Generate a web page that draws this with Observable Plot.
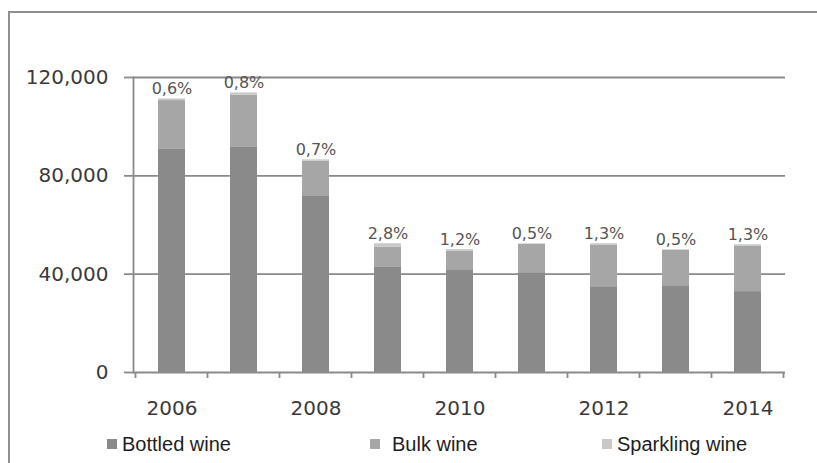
<!DOCTYPE html>
<html><head><meta charset="utf-8">
<script src="https://cdn.jsdelivr.net/npm/d3@7"></script>
<script src="https://cdn.jsdelivr.net/npm/@observablehq/plot@0.6"></script>
<style>
html,body{margin:0;padding:0;background:#fff;width:817px;height:463px;overflow:hidden;}
#frame{position:absolute;left:8px;top:11px;width:900px;height:600px;border-top:2px solid #8f8f8f;border-left:2px solid #8f8f8f;}
#chart{position:absolute;left:0;top:0;}
#legend{position:absolute;left:0;top:430px;width:817px;height:28px;font-family:"Liberation Sans",Arial,sans-serif;font-size:20px;color:#1e1e1e;}
.item{position:absolute;top:0;height:28px;display:flex;align-items:center;white-space:nowrap;}
.sw{display:inline-block;width:10px;height:10px;}
.i0{left:107px}.i0 .sw{margin-right:5px}
.i1{left:370px}.i1 .sw{margin-right:12px}
.i2{left:602px}.i2 .sw{margin-right:5px}
</style></head><body>
<div id="frame"></div>
<div id="chart"></div>
<div id="legend"></div>
<script>
const years = [2006, 2007, 2008, 2009, 2010, 2011, 2012, 2013, 2014];
const bottled = [91000, 91800, 71900, 43000, 41800, 40600, 34900, 35300, 32900];
const bulk = [19600, 21000, 14000, 7900, 7600, 11500, 16800, 14400, 18400];
const sparkling = [670, 910, 600, 1470, 600, 260, 680, 250, 680];
const shareLabels = ["0,6%", "0,8%", "0,7%", "2,8%", "1,2%", "0,5%", "1,3%", "0,5%", "1,3%"];
const seriesNames = ["Bottled wine", "Bulk wine", "Sparkling wine"];
const seriesColors = ["#8a8a8a", "#a6a6a6", "#c8c8c8"];
const yTicks = [0, 40000, 80000, 120000];
const xTickLabels = [2006, 2008, 2010, 2012, 2014];

const seriesValues = [bottled, bulk, sparkling];
const rows = [];
years.forEach((yr, i) => seriesNames.forEach((s, k) => rows.push({year: yr, series: s, value: seriesValues[k][i]})));
const totals = years.map((yr, i) => ({year: yr, total: bottled[i] + bulk[i] + sparkling[i], label: shareLabels[i]}));

const gray = "#8a8a8a";
const chart = Plot.plot({
  width: 817, height: 425,
  marginLeft: 133, marginRight: 32, marginTop: 77, marginBottom: 53,
  x: {type: "band", domain: years, paddingInner: 0.63, paddingOuter: 0.315},
  y: {domain: [0, 120000]},
  color: {domain: seriesNames, range: seriesColors},
  style: {background: "transparent", overflow: "visible", fontFamily: "DejaVu Sans"},
  marks: [
    Plot.gridY(yTicks, {stroke: gray, strokeOpacity: 1, strokeWidth: 1.8}),
    Plot.barY(rows, Plot.stackY({x: "year", y: "value", fill: "series", order: seriesNames})),
    Plot.frame({anchor: "left", stroke: gray, strokeWidth: 1.8}),
    Plot.axisY(yTicks, {tickSize: 9, tickPadding: 16, tickFormat: d3.format(","), fontSize: 20,
      fontFamily: "DejaVu Sans", fill: "#3a3a3a", stroke: gray, strokeWidth: 1.8, label: null}),
    Plot.axisX(xTickLabels, {tickSize: 0, tickPadding: 28, tickFormat: d => String(d), fontSize: 20,
      fontFamily: "DejaVu Sans", fill: "#3a3a3a", label: null}),
    Plot.text(totals, {x: "year", y: "total", text: "label", dy: -10, fontSize: 16,
      fontFamily: "DejaVu Sans", fill: "#555"})
  ]
});

// tick marks between categories on the x axis, from the plot's own scales
const xs = chart.scale("x");
const ys = chart.scale("y");
const y0 = ys.apply(0);
const gap = (xs.step - xs.bandwidth) / 2;
const bounds = years.map(y => xs.apply(y) - gap)
  .concat([xs.apply(years[years.length - 1]) + xs.bandwidth + gap]);
d3.select(chart).append("g").selectAll("line").data(bounds).join("line")
  .attr("x1", d => d).attr("x2", d => d).attr("y1", y0).attr("y2", y0 + 6)
  .attr("stroke", gray).attr("stroke-width", 1.8);

document.getElementById("chart").appendChild(chart);

const legend = d3.select("#legend");
seriesNames.forEach((s, k) => {
  const it = legend.append("div").attr("class", "item i" + k);
  it.append("span").attr("class", "sw").style("background", seriesColors[k]);
  it.append("span").text(s);
});
</script>
</body></html>
